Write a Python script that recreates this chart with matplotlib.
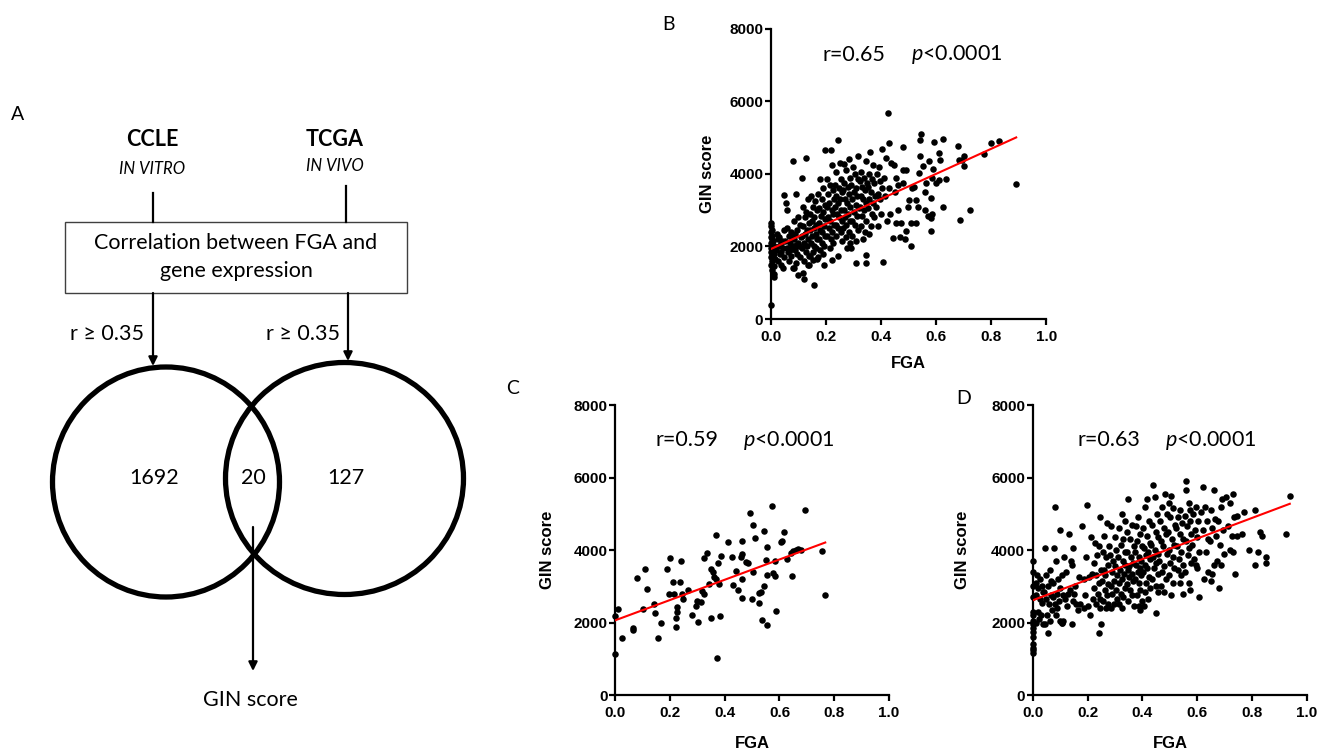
import numpy as np
import matplotlib
matplotlib.use("Agg")
import matplotlib.pyplot as plt
from matplotlib.patches import Ellipse, Rectangle

plt.rcParams['mathtext.fontset'] = 'custom'
plt.rcParams['mathtext.rm'] = 'Lato'
plt.rcParams['mathtext.it'] = 'Lato:italic'

# ---- Venn diagram (panel A) ----
venn_counts = [1692, 20, 127]
cohorts = ['CCLE', 'TCGA']
cohort_notes = ['IN VITRO', 'IN VIVO']
threshold_label = 'r \u2265 0.35'

# ---- panel B: TCGA (FGA, GIN score) ----
pts_b = [
    (0.0, 2650), (0.0, 2550), (0.003, 2450), (0.0, 2400), (0.005, 2300), (0.0, 2250), (0.002, 2200),
    (0.008, 2150), (0.0, 2100), (0.004, 2050), (0.012, 2000), (0.0, 1950), (0.006, 1900), (0.0, 1850),
    (0.01, 1800), (0.003, 1750), (0.0, 1700), (0.015, 1650), (0.005, 1600), (0.0, 1500), (0.01, 1450),
    (0.002, 1350), (0.012, 1250), (0.012, 1150), (0.0, 400),
    (0.022, 2350), (0.03, 2250), (0.025, 2200), (0.04, 2150), (0.035, 2100), (0.028, 2000), (0.045, 1950),
    (0.02, 1900), (0.038, 1850), (0.032, 1800), (0.048, 1700), (0.026, 1600), (0.036, 1500), (0.042, 1400),
    (0.047, 2450),
    (0.048, 3430), (0.055, 3200), (0.057, 3010), (0.06, 2500), (0.072, 2400), (0.065, 2300), (0.078, 2250),
    (0.052, 2150), (0.068, 2100), (0.075, 2000), (0.058, 1950), (0.07, 1900), (0.062, 1850), (0.074, 1750),
    (0.066, 1600), (0.079, 1400),
    (0.081, 4360), (0.09, 3450), (0.1, 2800), (0.085, 2700), (0.105, 2600), (0.095, 2450), (0.088, 2350),
    (0.108, 2250), (0.083, 2200), (0.098, 2100), (0.092, 2050), (0.102, 2000), (0.086, 1900), (0.096, 1800),
    (0.106, 1700), (0.09, 1550), (0.085, 1400), (0.097, 1200),
    (0.127, 4450), (0.112, 3900), (0.135, 3300), (0.118, 3100), (0.128, 2950), (0.122, 2800), (0.138, 2650),
    (0.115, 2550), (0.132, 2450), (0.125, 2350), (0.112, 2300), (0.136, 2200), (0.119, 2100), (0.13, 2000),
    (0.114, 1950), (0.128, 1850), (0.137, 1750), (0.121, 1600), (0.133, 1500), (0.115, 1270), (0.121, 1100),
    (0.145, 3400), (0.16, 3250), (0.152, 3100), (0.168, 3000), (0.142, 2900), (0.158, 2800), (0.148, 2700),
    (0.165, 2600), (0.155, 2500), (0.143, 2450), (0.162, 2350), (0.15, 2300), (0.169, 2200), (0.146, 2100),
    (0.157, 2000), (0.164, 1950), (0.153, 1850), (0.141, 1750), (0.166, 1650), (0.152, 1630), (0.139, 1500),
    (0.158, 940),
    (0.178, 3850), (0.19, 3600), (0.172, 3450), (0.185, 3300), (0.196, 3150), (0.175, 3050), (0.188, 2950),
    (0.182, 2850), (0.198, 2750), (0.173, 2650), (0.192, 2550), (0.18, 2450), (0.186, 2400), (0.197, 2300),
    (0.176, 2200), (0.184, 2100), (0.194, 2000), (0.179, 1900), (0.189, 1800), (0.171, 1700), (0.194, 1490),
    (0.198, 4650), (0.218, 4650), (0.222, 4250), (0.205, 3850), (0.215, 3700), (0.225, 3550), (0.208, 3450),
    (0.228, 3300), (0.212, 3200), (0.203, 3100), (0.22, 3000), (0.226, 2900), (0.207, 2800), (0.216, 2700),
    (0.229, 2600), (0.21, 2500), (0.221, 2400), (0.204, 2300), (0.218, 2200), (0.227, 2100), (0.213, 1950),
    (0.222, 1620),
    (0.242, 4940), (0.25, 4300), (0.238, 4050), (0.255, 3850), (0.232, 3700), (0.247, 3600), (0.258, 3500),
    (0.236, 3400), (0.252, 3300), (0.244, 3200), (0.233, 3100), (0.256, 3000), (0.24, 2900), (0.249, 2800),
    (0.259, 2700), (0.235, 2600), (0.245, 2500), (0.253, 2400), (0.238, 2300), (0.257, 2150), (0.242, 1750),
    (0.285, 4420), (0.264, 4280), (0.272, 4100), (0.288, 3900), (0.266, 3750), (0.279, 3650), (0.262, 3550),
    (0.284, 3450), (0.27, 3300), (0.276, 3200), (0.289, 3100), (0.265, 3000), (0.281, 2900), (0.268, 2800),
    (0.287, 2700), (0.274, 2600), (0.263, 2500), (0.282, 2400), (0.271, 2250), (0.286, 2100), (0.278, 1950),
    (0.315, 4480), (0.298, 4200), (0.305, 4000), (0.318, 3850), (0.292, 3700), (0.31, 3600), (0.302, 3500),
    (0.314, 3400), (0.295, 3300), (0.308, 3150), (0.319, 3050), (0.3, 2950), (0.312, 2850), (0.296, 2700),
    (0.306, 2600), (0.317, 2450), (0.293, 2300), (0.309, 2150), (0.291, 1960), (0.309, 1540),
    (0.345, 4350), (0.328, 4050), (0.338, 3900), (0.322, 3800), (0.348, 3750), (0.332, 3650), (0.341, 3550),
    (0.326, 3400), (0.336, 3300), (0.346, 3200), (0.324, 3100), (0.339, 3000), (0.33, 2850), (0.344, 2700),
    (0.327, 2550), (0.342, 2400), (0.334, 2200), (0.345, 1770), (0.345, 1540),
    (0.36, 4600), (0.372, 4250), (0.355, 4000), (0.368, 3850), (0.376, 3750), (0.352, 3650), (0.364, 3500),
    (0.378, 3400), (0.358, 3300), (0.37, 3200), (0.354, 3050), (0.366, 2900), (0.374, 2800), (0.362, 2550),
    (0.357, 2350),
    (0.402, 4680), (0.392, 4200), (0.385, 4000), (0.398, 3800), (0.405, 3600), (0.388, 3450), (0.395, 3300),
    (0.382, 3100), (0.4, 2900), (0.39, 2550), (0.408, 1570),
    (0.424, 5670), (0.43, 4850), (0.418, 4440), (0.436, 4300), (0.412, 3900), (0.428, 3600), (0.415, 3400),
    (0.432, 2900), (0.42, 2700), (0.442, 2230),
    (0.446, 4250), (0.455, 3900), (0.462, 3700), (0.45, 3500), (0.461, 3010), (0.455, 2650), (0.468, 2250),
    (0.48, 4730), (0.479, 4120), (0.491, 4120), (0.479, 3750), (0.501, 3290), (0.498, 3100), (0.474, 2650),
    (0.491, 2420), (0.486, 2200),
    (0.512, 3610), (0.52, 3650), (0.527, 3290), (0.533, 3100), (0.527, 2650), (0.509, 2650), (0.509, 2020),
    (0.544, 5100), (0.542, 4940), (0.542, 4480), (0.552, 4210), (0.537, 4020), (0.564, 3750), (0.558, 3490),
    (0.561, 3010),
    (0.594, 4880), (0.576, 4360), (0.59, 4130), (0.585, 3900), (0.598, 3750), (0.582, 3330), (0.585, 2900),
    (0.571, 2830), (0.582, 2780), (0.582, 2420),
    (0.624, 4970), (0.612, 4570), (0.615, 4370), (0.636, 3860), (0.612, 3840), (0.624, 3100),
    (0.679, 4780), (0.703, 4480), (0.695, 4390), (0.703, 4210), (0.685, 4390), (0.687, 2740), (0.724, 3010),
    (0.773, 4560), (0.8, 4850), (0.83, 4910), (0.891, 3730),
]

# ---- panel C ----
pts_c = [
    (0.0, 2180), (0.0, 1130), (0.009, 2360), (0.027, 1570), (0.064, 1790), (0.067, 1840), (0.079, 3220),
    (0.103, 2360), (0.109, 3470), (0.118, 2930), (0.143, 2520), (0.147, 2260), (0.158, 1570), (0.169, 2000),
    (0.19, 3480), (0.197, 2780), (0.202, 3780), (0.211, 3130), (0.214, 2780), (0.221, 2130), (0.222, 1880),
    (0.225, 2420), (0.225, 2300), (0.236, 3130), (0.242, 3710), (0.244, 2780), (0.247, 2660), (0.265, 2900),
    (0.282, 2220), (0.296, 2460), (0.298, 2600), (0.301, 2020), (0.312, 2560), (0.317, 2880), (0.323, 3790),
    (0.326, 2800), (0.337, 3930), (0.344, 3060), (0.351, 2120), (0.351, 3490), (0.356, 3400), (0.362, 3260),
    (0.367, 4420), (0.367, 3210), (0.371, 1020), (0.375, 3650), (0.379, 3060), (0.383, 2180), (0.385, 3830),
    (0.412, 4230), (0.428, 3820), (0.43, 3040), (0.442, 3420), (0.448, 2910), (0.458, 3810), (0.463, 4250),
    (0.463, 3900), (0.465, 3190), (0.465, 2690), (0.478, 3660), (0.485, 3650), (0.492, 5030), (0.499, 2640),
    (0.502, 4680), (0.504, 3400), (0.51, 4320), (0.525, 2530), (0.527, 2820), (0.532, 2830), (0.537, 2070),
    (0.544, 4520), (0.544, 3020), (0.551, 3730), (0.553, 1920), (0.554, 3320), (0.556, 4080), (0.571, 5210),
    (0.575, 3370), (0.582, 3710), (0.583, 3280), (0.589, 2310), (0.604, 4210), (0.609, 4240), (0.617, 4500),
    (0.628, 3740), (0.642, 3930), (0.644, 3290), (0.65, 3960), (0.66, 4010), (0.666, 4020), (0.677, 4010),
    (0.693, 5110), (0.755, 3980), (0.767, 2750),
]

# ---- panel D ----
pts_d = [
    (0.0, 3700), (0.0, 3400), (0.0, 3000), (0.0, 2700), (0.0, 2300), (0.0, 2200), (0.0, 2050), (0.0, 1950),
    (0.0, 1850), (0.0, 1750), (0.0, 1600), (0.0, 1400), (0.0, 1300), (0.0, 1250), (0.0, 1150),
    (0.015, 3300), (0.025, 3200), (0.012, 3100), (0.032, 3000), (0.02, 2950), (0.038, 2850), (0.01, 2750),
    (0.028, 2650), (0.035, 2550), (0.018, 2300), (0.03, 2200), (0.022, 2100), (0.036, 1950), (0.013, 2000),
    (0.045, 4050), (0.062, 3450), (0.05, 3300), (0.068, 3150), (0.055, 3000), (0.042, 2850), (0.065, 2750),
    (0.048, 2650), (0.058, 2500), (0.07, 2350), (0.052, 2200), (0.064, 2050), (0.046, 1950), (0.056, 1700),
    (0.082, 5200), (0.078, 4050), (0.085, 3700), (0.092, 3200), (0.075, 3100), (0.098, 2950), (0.088, 2800),
    (0.072, 2700), (0.095, 2600), (0.08, 2500), (0.09, 2400), (0.086, 2200), (0.1, 2050), (0.108, 2000),
    (0.1, 4550), (0.115, 3800), (0.12, 3400), (0.105, 3300), (0.128, 2800), (0.112, 2750), (0.118, 2650),
    (0.125, 2450), (0.112, 2050), (0.105, 2000),
    (0.132, 4450), (0.148, 4050), (0.138, 3700), (0.142, 3600), (0.155, 3000), (0.136, 2900), (0.15, 2800),
    (0.145, 2600), (0.158, 2500), (0.142, 1950),
    (0.18, 4650), (0.17, 3250), (0.185, 3200), (0.172, 2500), (0.188, 2400), (0.165, 2350),
    (0.198, 5250), (0.212, 4350), (0.195, 3800), (0.215, 3350), (0.205, 3250), (0.192, 2750), (0.218, 2650),
    (0.2, 2450), (0.208, 2200),
    (0.245, 4900), (0.228, 4200), (0.24, 4100), (0.235, 3850), (0.225, 3650), (0.248, 3450), (0.232, 3300),
    (0.242, 3100), (0.222, 2950), (0.238, 2800), (0.246, 2650), (0.23, 2500), (0.244, 2400), (0.24, 1700),
    (0.25, 1950),
    (0.272, 4750), (0.26, 4400), (0.278, 4100), (0.255, 3950), (0.268, 3800), (0.275, 3600), (0.258, 3450),
    (0.265, 3300), (0.252, 3150), (0.276, 3050), (0.262, 2900), (0.27, 2750), (0.256, 2600), (0.274, 2500),
    (0.266, 2400),
    (0.285, 4650), (0.298, 4350), (0.305, 4000), (0.282, 3850), (0.292, 3700), (0.3, 3550), (0.288, 3400),
    (0.308, 3300), (0.295, 3150), (0.284, 3000), (0.302, 2900), (0.29, 2800), (0.306, 2650), (0.296, 2500),
    (0.286, 2400),
    (0.325, 5000), (0.338, 4800), (0.315, 4600), (0.33, 4300), (0.322, 4150), (0.335, 3950), (0.312, 3800),
    (0.328, 3700), (0.338, 3600), (0.318, 3450), (0.332, 3350), (0.324, 3200), (0.314, 3100), (0.336, 2950),
    (0.32, 2800), (0.33, 2700), (0.316, 2500), (0.326, 2400),
    (0.348, 5400), (0.362, 4700), (0.345, 4500), (0.355, 4300), (0.368, 4100), (0.342, 3950), (0.358, 3800),
    (0.365, 3650), (0.35, 3550), (0.346, 3450), (0.36, 3350), (0.352, 3250), (0.366, 3150), (0.344, 3050),
    (0.356, 2900), (0.362, 2750), (0.348, 2600), (0.368, 2450),
    (0.385, 4900), (0.375, 4650), (0.392, 4450), (0.38, 4250), (0.398, 4100), (0.372, 3950), (0.388, 3800),
    (0.395, 3700), (0.378, 3600), (0.39, 3500), (0.382, 3400), (0.396, 3300), (0.374, 3200), (0.386, 3100),
    (0.392, 2900), (0.38, 2750), (0.398, 2600), (0.388, 2450), (0.392, 2350),
    (0.418, 5400), (0.41, 5200), (0.425, 4800), (0.402, 4600), (0.415, 4400), (0.428, 4200), (0.405, 4050),
    (0.42, 3950), (0.412, 3850), (0.426, 3750), (0.408, 3600), (0.418, 3500), (0.402, 3400), (0.422, 3250),
    (0.414, 3100), (0.428, 2950), (0.41, 2850), (0.42, 2650), (0.405, 2450),
    (0.44, 5800), (0.445, 5450), (0.452, 5000), (0.436, 4700), (0.448, 4500), (0.458, 4350), (0.432, 4150),
    (0.445, 4000), (0.455, 3900), (0.438, 3800), (0.45, 3650), (0.442, 3500), (0.456, 3350), (0.434, 3200),
    (0.448, 3000), (0.458, 2850), (0.45, 2250),
    (0.482, 5550), (0.47, 5200), (0.488, 5000), (0.465, 4800), (0.478, 4600), (0.485, 4450), (0.468, 4250),
    (0.475, 4100), (0.488, 3900), (0.462, 3700), (0.48, 3550), (0.472, 3400), (0.486, 3200), (0.466, 3000),
    (0.478, 2850),
    (0.505, 5500), (0.495, 5300), (0.512, 5150), (0.5, 4900), (0.518, 4700), (0.492, 4500), (0.508, 4300),
    (0.515, 4150), (0.498, 4000), (0.51, 3800), (0.502, 3650), (0.516, 3500), (0.495, 3300), (0.512, 3100),
    (0.505, 2750),
    (0.535, 5100), (0.528, 4900), (0.545, 4750), (0.522, 4600), (0.538, 4450), (0.548, 4300), (0.525, 4100),
    (0.54, 3950), (0.532, 3750), (0.546, 3600), (0.528, 3450), (0.542, 3300), (0.536, 3100), (0.548, 2800),
    (0.56, 5900), (0.56, 5650), (0.568, 5300), (0.575, 5100), (0.555, 4950), (0.572, 4800), (0.562, 4650),
    (0.578, 4450), (0.558, 4250), (0.57, 4050), (0.565, 3850), (0.576, 3650), (0.554, 3400), (0.568, 3100),
    (0.572, 2900),
    (0.595, 5200), (0.585, 5000), (0.602, 4800), (0.59, 4550), (0.598, 4350), (0.582, 4150), (0.605, 3950),
    (0.588, 3750), (0.595, 3600), (0.6, 3500), (0.605, 2700),
    (0.62, 5750), (0.628, 5200), (0.615, 5050), (0.635, 4800), (0.622, 4550), (0.638, 4300), (0.63, 3950),
    (0.64, 3400), (0.625, 3200),
    (0.66, 5650), (0.648, 5100), (0.665, 4850), (0.652, 4600), (0.668, 4400), (0.645, 4250), (0.662, 3600),
    (0.655, 3350), (0.65, 3150),
    (0.69, 5400), (0.685, 5200), (0.675, 4800), (0.695, 4550), (0.682, 4150), (0.698, 3900), (0.672, 3700),
    (0.688, 3600), (0.68, 2950),
    (0.73, 5550), (0.705, 5450), (0.72, 5300), (0.735, 4900), (0.712, 4650), (0.725, 4400), (0.718, 4000),
    (0.73, 3950), (0.738, 3350),
    (0.77, 5050), (0.745, 4950), (0.762, 4450), (0.745, 4400), (0.79, 4000),
    (0.81, 5100), (0.83, 4500), (0.835, 4400), (0.82, 3950), (0.85, 3800), (0.85, 3650), (0.81, 3600),
    (0.937, 5500), (0.925, 4450),
]

# regression lines: (intercept, slope)
fit_b = (1930, 3450)
fit_c = (2060, 2800)
fit_d = (2615, 2840)
r_labels = ['r=0.65', 'r=0.59', 'r=0.63']
p_label = r'$p$<0.0001'

fig = plt.figure(figsize=(13.29, 7.54), dpi=100)

# ---------------- panel A, drawn in pixel coordinates ----------------
axA = fig.add_axes([0, 0, 1, 1])
axA.set_xlim(0, 1329)
axA.set_ylim(754, 0)
axA.axis('off')
fa = ['Lato', 'DejaVu Sans']

axA.text(18, 114, 'A', fontsize=14, family=fa, ha='center', va='center')
for xc, name, note, ny in [(152, cohorts[0], cohort_notes[0], 169), (335, cohorts[1], cohort_notes[1], 166)]:
    axA.text(xc, 139, name, fontsize=15.5, fontweight='bold', family=fa, ha='center', va='center')
    axA.text(xc, ny, note, fontsize=12, style='italic', family=fa, ha='center', va='center')

axA.plot([153, 153], [193, 222], color='k', lw=1.6)
axA.plot([346, 346], [186, 222], color='k', lw=1.6)
axA.add_patch(Rectangle((65, 222), 342, 71, facecolor='white', edgecolor='#404040', lw=1.0))
axA.text(236, 243, 'Correlation between FGA and', fontsize=15.5, family=fa, ha='center', va='center')
axA.text(236, 271, 'gene expression', fontsize=15.5, family=fa, ha='center', va='center')

arrow = dict(arrowstyle='-|>', lw=1.6, color='k', mutation_scale=13, shrinkA=0, shrinkB=0)
axA.annotate('', xy=(153, 366), xytext=(153, 293), arrowprops=arrow)
axA.annotate('', xy=(348, 361), xytext=(348, 293), arrowprops=arrow)
axA.text(107, 334, threshold_label, fontsize=15.5, family=fa, ha='center', va='center')
axA.text(303, 334, threshold_label, fontsize=15.5, family=fa, ha='center', va='center')

axA.add_patch(Ellipse((166, 482), 227, 230, fill=False, edgecolor='k', lw=3.8))
axA.add_patch(Ellipse((344.5, 478.5), 238, 232, fill=False, edgecolor='k', lw=3.8))
for xc, n in zip([154, 253, 346], venn_counts):
    axA.text(xc, 478, str(n), fontsize=15.5, family=fa, ha='center', va='center')
axA.annotate('', xy=(253, 671), xytext=(253, 527), arrowprops=arrow)
axA.text(250, 700, 'GIN score', fontsize=15.5, family=fa, ha='center', va='center')

# ---------------- scatter panels ----------------
panels = [
    ('B', pts_b, fit_b, r_labels[0], [0.5801, 0.5769, 0.2071, 0.3850], (668, 24), 0.910, 0.189, 0.509, -0.229, -0.152),
    ('C', pts_c, fit_c, r_labels[1], [0.4628, 0.0782, 0.2062, 0.3846], (513, 388), 0.879, 0.146, 0.467, -0.248, -0.166),
    ('D', pts_d, fit_d, r_labels[2], [0.7771, 0.0782, 0.2064, 0.3846], (964, 398), 0.879, 0.164, 0.482, -0.255, -0.166),
]

for letter, pts, fit, rlab, rect, lpos, ty, rx, px, ylx, xly in panels:
    ax = fig.add_axes(rect)
    x = np.array([p[0] for p in pts])
    y = np.array([p[1] for p in pts])
    ax.scatter(x, y, s=22, c='black', linewidths=0, zorder=3, clip_on=False)
    xs = np.array([x.min(), x.max()])
    ax.plot(xs, fit[0] + fit[1] * xs, color='red', lw=1.5, zorder=4)
    ax.set_xlim(0, 1)
    ax.set_ylim(0, 8000)
    ax.set_xticks(np.arange(0, 1.01, 0.2))
    ax.set_xticklabels(['%.1f' % v for v in np.arange(0, 1.01, 0.2)])
    ax.set_yticks([0, 2000, 4000, 6000, 8000])
    for s in ['top', 'right']:
        ax.spines[s].set_visible(False)
    for s in ['left', 'bottom']:
        ax.spines[s].set_linewidth(1.6)
    ax.tick_params(direction='out', length=4, width=1.6, pad=1.5)
    for lab in ax.get_xticklabels() + ax.get_yticklabels():
        lab.set_family('Liberation Sans')
        lab.set_fontweight('bold')
        lab.set_fontsize(11)
    ax.tick_params(axis='x', pad=4)
    ax.text(ylx, 0.5, 'GIN score', transform=ax.transAxes, rotation=90, ha='center', va='center',
            fontsize=12, fontweight='bold', family='Liberation Sans')
    ax.text(0.5, xly, 'FGA', transform=ax.transAxes, ha='center', va='center',
            fontsize=12, fontweight='bold', family='Liberation Sans')
    ax.text(rx, ty, rlab, transform=ax.transAxes, ha='left', va='center', fontsize=15.5, family=fa)
    ax.text(px, ty, p_label, transform=ax.transAxes, ha='left', va='center', fontsize=15.5, family=fa)
    axA.text(lpos[0], lpos[1], letter, fontsize=14, family=fa, ha='center', va='center')

fig.savefig('out.png', dpi=100)
